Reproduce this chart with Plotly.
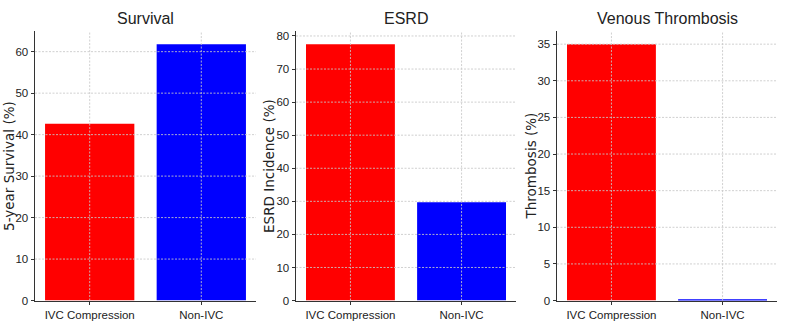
import plotly.graph_objects as go
from plotly.subplots import make_subplots

categories = ["IVC Compression", "Non-IVC"]
survival = [42.6, 61.8]
esrd = [77.5, 29.7]
thrombosis = [35.0, 0.15]
titles = ["Survival", "ESRD", "Venous Thrombosis"]
ytitles = ["5-year Survival (%)", "ESRD Incidence (%)", "Thrombosis (%)"]
yticks = [[0, 10, 20, 30, 40, 50, 60], [0, 10, 20, 30, 40, 50, 60, 70, 80], [0, 5, 10, 15, 20, 25, 30, 35]]
yranges = [[0, 64.9], [0, 81.4], [0, 36.75]]
colors = ["#ff0000", "#0000ff"]

W, H = 790, 332
xdoms = [(35, 256), (296, 516), (557, 777)]
ytitle_x = [9, 269, 530.5]
ytop, ybot = 31, 306

fig = make_subplots(rows=1, cols=3)
tickfont = dict(family="Liberation Sans, sans-serif", size=11.5, color="#222")
grid_line = dict(color="rgba(200,200,200,0.85)", width=1, dash="2px,1.5px")
for i, vals in enumerate([survival, esrd, thrombosis]):
    fig.add_trace(go.Bar(x=categories, y=vals, marker=dict(color=colors, line=dict(width=0)),
                         width=0.8, showlegend=False), row=1, col=i + 1)
    ax = "" if i == 0 else str(i + 1)
    fig.layout["xaxis" + ax].update(
        domain=[xdoms[i][0] / W, xdoms[i][1] / W], range=[-0.49, 1.49],
        showline=True, linecolor="#333", linewidth=1, ticks="outside", ticklen=3.5,
        tickcolor="#333", showgrid=False, tickfont=tickfont, layer="above traces")
    fig.layout["yaxis" + ax].update(
        domain=[1 - ybot / H, 1 - ytop / H], range=yranges[i], tickvals=yticks[i],
        showline=True, linecolor="#333", linewidth=1, ticks="outside", ticklen=3.5,
        tickcolor="#333", showgrid=False, tickfont=tickfont, zeroline=False, layer="above traces")
    # dotted grid drawn above the bars, as in the reference
    for t in yticks[i][1:]:
        fig.add_shape(type="line", xref="x" + ax + " domain", yref="y" + ax, x0=0, x1=1, y0=t, y1=t,
                      line=grid_line, layer="above")
    for c in categories:
        fig.add_shape(type="line", xref="x" + ax, yref="y" + ax + " domain", x0=c, x1=c, y0=0, y1=1,
                      line=grid_line, layer="above")
    fig.add_annotation(text=titles[i], x=(xdoms[i][0] + xdoms[i][1]) / 2 / W, y=1 - 18 / H,
                       xref="paper", yref="paper", showarrow=False, xanchor="center", yanchor="middle",
                       font=dict(family="Liberation Sans, sans-serif", size=16, color="#222"))
    fig.add_annotation(text=ytitles[i], x=ytitle_x[i] / W, y=1 - (ytop + ybot) / 2 / H,
                       xref="paper", yref="paper", showarrow=False, xanchor="center", yanchor="middle",
                       textangle=-90, font=dict(family="DejaVu Sans", size=13.5, color="#222"))

fig.update_layout(width=W, height=H, margin=dict(l=0, r=0, t=0, b=0),
                  plot_bgcolor="white", paper_bgcolor="white", bargap=0.2)
fig.write_html("out.html")
